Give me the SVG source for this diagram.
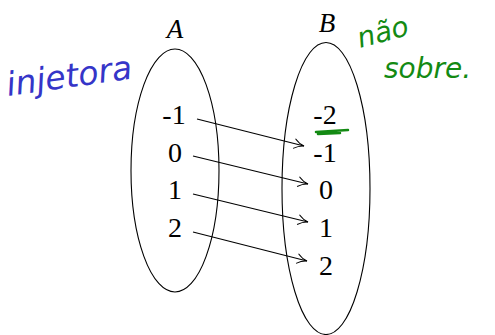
<svg xmlns="http://www.w3.org/2000/svg" width="495" height="335" viewBox="0 0 495 335">
<style>
.set{fill:none;stroke:#000;stroke-width:1.1}
.lbl{font-family:"Liberation Serif",serif;font-size:28px;fill:#000;text-anchor:middle}
.name{font-family:"Liberation Serif",serif;font-style:italic;font-size:27px;fill:#000;text-anchor:middle}
.conn{fill:none;stroke:#000;stroke-width:1.1}
.hw-blue{font-family:"DejaVu Sans",sans-serif;font-style:italic;font-size:33px;fill:#3535c8}
.hw-green{font-family:"DejaVu Sans",sans-serif;font-style:italic;font-size:28px;fill:#138a13}
</style>
<defs>
<marker id="arr" viewBox="0 0 12 12" refX="11" refY="6" markerWidth="12" markerHeight="12" markerUnits="userSpaceOnUse" orient="auto">
<path d="M1,1 Q6,5.2 11,6 Q6,6.8 1,11" fill="none" stroke="#000" stroke-width="1"/>
</marker>
</defs>
<rect width="495" height="335" fill="#fff"/>
<g id="setA">
<ellipse class="set" cx="175" cy="170.5" rx="44" ry="121.5"/>
<text class="name" x="175" y="38">A</text>
<text class="lbl" x="174" y="124">-1</text>
<text class="lbl" x="175" y="162">0</text>
<text class="lbl" x="175" y="199">1</text>
<text class="lbl" x="175" y="237">2</text>
</g>
<g id="setB">
<ellipse class="set" cx="326" cy="188.5" rx="44" ry="146"/>
<text class="name" x="327" y="32">B</text>
<text class="lbl" x="325" y="124">-2</text>
<text class="lbl" x="325" y="162">-1</text>
<text class="lbl" x="326" y="199">0</text>
<text class="lbl" x="326" y="237">1</text>
<text class="lbl" x="326" y="275">2</text>
</g>
<g id="connectors">
<line class="conn" x1="197" y1="119" x2="304" y2="146" marker-end="url(#arr)"/>
<line class="conn" x1="193" y1="156" x2="308" y2="184" marker-end="url(#arr)"/>
<line class="conn" x1="193" y1="194" x2="308" y2="222" marker-end="url(#arr)"/>
<line class="conn" x1="193" y1="232" x2="307" y2="261" marker-end="url(#arr)"/>
</g>
<g id="annotations">
<text class="hw-blue" x="8" y="96" transform="rotate(-8 8 96)">injetora</text>
<path d="M316,132 L348,130 M318,134 L340,133" fill="none" stroke="#138a13" stroke-width="2.5" stroke-linecap="round"/>
<text class="hw-green" x="360" y="48" transform="rotate(-15 360 48)">não</text>
<text class="hw-green" x="384" y="78">sobre.</text>
</g>
</svg>
